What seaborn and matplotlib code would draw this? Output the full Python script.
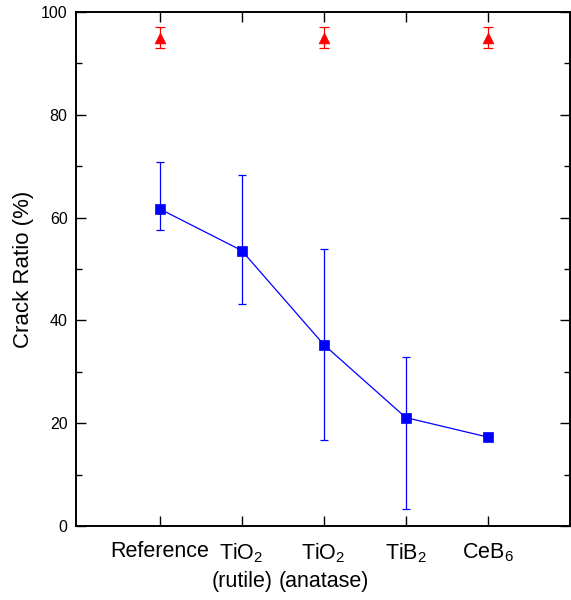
import matplotlib
matplotlib.use("Agg")
import matplotlib.pyplot as plt
import seaborn as sns
import pandas as pd
import numpy as np

categories = ["Reference", "TiO$_2$\n(rutile)", "TiO$_2$\n(anatase)", "TiB$_2$", "CeB$_6$"]
blue_vals = [61.7, 53.6, 35.3, 21.1, 17.3]
blue_upper = [70.8, 68.3, 53.9, 32.9, 17.6]
blue_lower = [57.5, 43.2, 16.8, 3.3, 17.0]
red_idx = [0, 2, 4]
red_vals = [95.0, 95.0, 95.0]
red_err = [2.0, 2.0, 2.0]
yticks = [0, 20, 40, 60, 80, 100]

sns.set_theme(style="ticks")
plt.rcParams['font.family'] = ['Liberation Sans', 'DejaVu Sans']
plt.rcParams['mathtext.fontset'] = 'custom'
plt.rcParams['mathtext.rm'] = 'Liberation Sans'
plt.rcParams['mathtext.it'] = 'Liberation Sans'
plt.rcParams['text.color'] = 'black'
plt.rcParams['axes.labelcolor'] = 'black'
plt.rcParams['xtick.color'] = 'black'
plt.rcParams['ytick.color'] = 'black'

fig = plt.figure(figsize=(5.71, 6.0), dpi=100)
ax = fig.add_axes([0.133, 0.1233, 0.865, 0.8567])

x = np.arange(len(categories))
df = pd.DataFrame({"x": x, "y": blue_vals})
sns.lineplot(data=df, x="x", y="y", ax=ax, color="blue", lw=0.9,
             marker="s", markersize=6.5, markeredgecolor="blue", markeredgewidth=0.5)
yerr = np.array([np.array(blue_vals) - np.array(blue_lower),
                 np.array(blue_upper) - np.array(blue_vals)])
ax.errorbar(x, blue_vals, yerr=yerr, fmt="none", ecolor="blue", elinewidth=0.9,
            capsize=3, capthick=0.9)

dfr = pd.DataFrame({"x": x[red_idx], "y": red_vals})
sns.scatterplot(data=dfr, x="x", y="y", ax=ax, color="red", marker="^", s=60,
                edgecolor="red", linewidth=0.5, zorder=5)
ax.errorbar(x[red_idx], red_vals, yerr=red_err, fmt="none", ecolor="red",
            elinewidth=0.9, capsize=3.3, capthick=0.9)

ax.set_xlim(-1.02, 5.0)
ax.set_ylim(0, 100)
ax.set_xticks(x)
ax.set_xticklabels(categories, fontsize=15.5, linespacing=1.4)
ax.set_yticks(yticks)
ax.set_yticklabels([str(v) for v in yticks], fontsize=11.5)
ax.set_yticks(np.arange(10, 100, 20), minor=True)
ax.set_xlabel("")
ax.set_ylabel("Crack Ratio (%)", fontsize=16)
ax.yaxis.set_label_coords(-0.085, 0.5)

ax.tick_params(axis="both", which="both", direction="in", top=True, right=True,
               color="black", width=1.0)
ax.tick_params(axis="both", which="major", length=7, pad=6)
ax.tick_params(axis="y", which="minor", length=4.5)
ax.tick_params(axis="x", which="major", pad=11)
for s in ax.spines.values():
    s.set_linewidth(1.4)
    s.set_color("black")

fig.savefig("out.png", dpi=100)
